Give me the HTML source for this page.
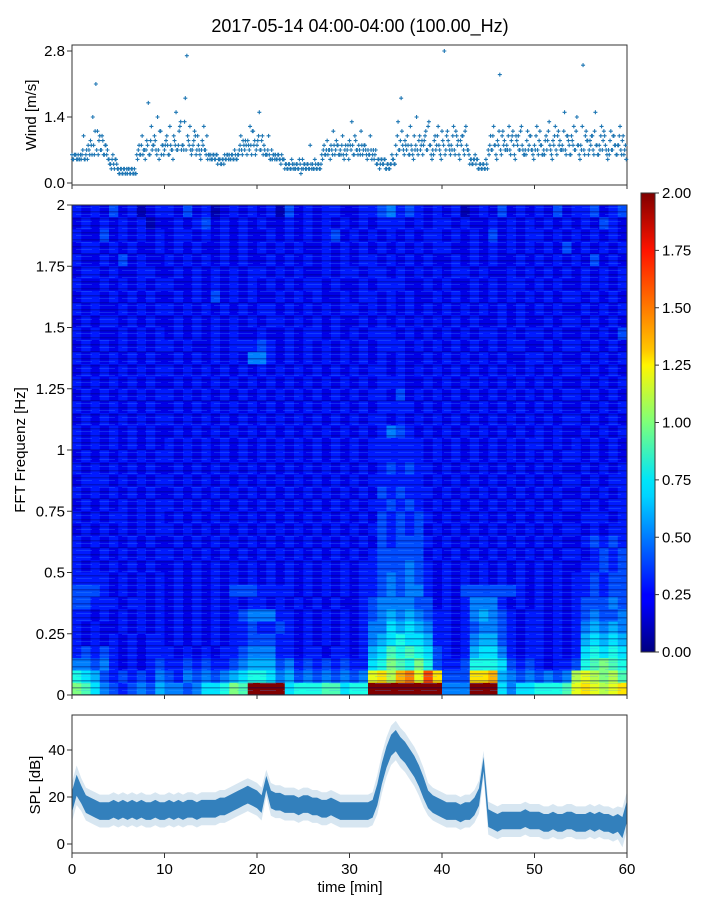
<!DOCTYPE html>
<html><head><meta charset="utf-8"><style>
body{margin:0;background:#fff;}
svg{display:block;font-family:"Liberation Sans","DejaVu Sans",sans-serif;}
</style></head><body>
<svg id="fig" width="720" height="900" viewBox="0 0 720 900">
<text x="360" y="32" text-anchor="middle" font-size="18" fill="#000">2017-05-14 04:00-04:00 (100.00_Hz)</text>
<defs>
<linearGradient id="jet" x1="0" y1="1" x2="0" y2="0">
<stop offset="0" stop-color="#000080"/><stop offset="0.11" stop-color="#0000ff"/><stop offset="0.125" stop-color="#0000ff"/><stop offset="0.34" stop-color="#00d4ff"/><stop offset="0.375" stop-color="#00e5f8"/><stop offset="0.5" stop-color="#7dff7a"/><stop offset="0.625" stop-color="#fff500"/><stop offset="0.66" stop-color="#ffc400"/><stop offset="0.875" stop-color="#ff1300"/><stop offset="1" stop-color="#800000"/>
</linearGradient>
<pattern id="streaks" width="23" height="7" patternUnits="userSpaceOnUse">
<rect x="0" y="1" width="23" height="1.5" fill="#000060" fill-opacity="0.35"/>
<rect x="7" y="4" width="16" height="1" fill="#40a0ff" fill-opacity="0.25"/>
</pattern>
<clipPath id="clipSpl"><rect x="72" y="715" width="555" height="138"/></clipPath>
</defs>
<g id="wind"></g>
<g id="spec"></g>
<g id="cbar"></g>
<g id="spl"></g>
</svg>
<script>
// ---------- data ----------
// wind: 6 samples per minute, chars = tenths of m/s ('0'-'9' 0.0-0.9, 'a'.. = 1.0..)
const windMinutes = ["566556","6a5786","8e6lb9","7a6865","436353","232323","323232","586a75","9h6c8a","7e5b86",
"8a6c75","9f7bd8","7ir9c6","8b6a75","9c7a65","565645","454565","565756","7a6896","8c6b97",
"9f7a86","6a5765","565455","434353","343525","434383","353434","586975","7b6986","6a5875",
"8d6a76","7b6875","6a5764","535453","434654","6d7i86","8a6c75","7e6a86","9b7d85","6a8c75",
"9s7b86","7c6a95","8a6c76","545653","434353","6a7c85","8n6b97","7c6a85","9a7c76","6b8a75",
"7c6b86","6a9d75","8c6b97","7f6a86","9c7e85","7p6b97","8a6f86","7c9a75","6b7a86","8c6a75"];
// second dense sample set (base cluster)
const windMinutesB = ["656565","575657","968b76","a79687","545454","323232","232322","676867","786978","967b68",
"798687","a878c7","8d7a87","79a786","787656","656565","545656","656565","687978","978b86",
"8a7967","676556","656565","343434","434343","343434","434343","676767","868786","786768",
"978697","868786","767657","454545","343454","8a79b7","978686","a87979","8a7c86","797a86",
"b86a97","8a7b86","9a7b87","454545","343434","787a86","9b7a87","8a79b6","a87b86","797a76",
"8a7986","797b86","9a7a87","8b7a96","a87b86","8c7a96","9a7b86","8a7b86","797a86","8a7968"];
const windTicks = [0.0, 1.4, 2.8];

// spectrogram: 40 rows (top = 1.95-2.0 Hz ... bottom = 0-0.05 Hz), 60 one-minute columns
// chars: '0'-'9' = 0.0-0.9, 'a'-'k' = 1.0-2.0
const specRows = [
"3232423123 3242312323 2314232332 2334534323 2312324232 3242334234",
"2323232312 2323423232 3223232323 2323332323 3232232323 2323232432",
"3224232323 2332323232 2323232342 3232323233 2323242323 3232323232",
"2332323223 2323223232 3232322323 2323232323 3223232323 2324232323",
"3223242322 3232323232 2323232323 2332323232 2323232232 3232324232",
"2332322332 2323232323 3232322323 3233232323 2332322323 2323232323",
"3223232323 3223232323 2323233232 2323332232 3223232332 3232232323",
"2332323232 2323242323 2232323223 2332323223 2323232323 2323323232",
"3232232323 3232323232 3323232323 3232323232 3232323232 3232232323",
"2323323232 2323232323 2332323232 2323232323 2323223232 2323323232",
"3232232323 2323232322 3223233232 3233323232 3232332323 3232232324",
"2323232323 3232232333 4323232323 2323332323 2323232332 2323323232",
"3232323232 2323232325 5323232323 2323232232 3232323223 3232232323",
"2323232323 3232323232 3232323232 3233232323 2323232323 2323323232",
"3232323232 2323232323 2323232323 2323332232 3232323232 3232232323",
"2323232323 3232323232 3232323232 3233242323 2323232323 2323323232",
"3232323232 2323232323 2323232323 2323333232 3232323232 3232232323",
"2323232323 3232323232 3232323232 3233232323 2323232323 2323323232",
"3232323232 2323232323 2323232323 2323543232 3232323232 3232232323",
"3232323232 3232323232 3232323232 3233333323 2323232323 3232323232",
"2323232323 3232323232 3232323232 3233333323 2323232323 2323323232",
"3232323232 2323232323 2323232323 2323434332 3232323232 3232232323",
"2333232323 3232323232 3232323232 3233333323 2323232323 2323323233",
"3232323232 2323232323 2323232323 2324343332 3232323232 3232232323",
"2323232323 3232323232 3232323232 3233434323 2323232323 2323323233",
"3232332323 2323232323 2323232323 2324343432 3232323232 3232233323",
"2323232323 3232323232 3232323232 3234343423 2323232323 2323323233",
"3232323232 2323232323 2323232323 2324344432 3232323232 3232234343",
"3323232323 3232323232 3232323232 3234444423 2323232323 2323323434",
"3232323232 2323232323 2323232323 2334445432 3232323232 3232233434",
"3333232323 2323232323 2323232323 2334545432 3232323232 3232334344",
"4443232323 2323232444 3333232323 2334545532 3244444432 3232334344",
"4433323323 2323232323 3232323232 2345555442 3235553232 3232344454",
"3323232323 2323232345 5533232323 2345656543 3235654323 3232345445",
"3232232323 2323232334 3343232323 2355767653 3234554323 3232356565",
"3232323233 2323232334 4433232323 2356787763 3235664323 3232367676",
"3434323233 3232323345 5533233233 2367989874 3236775323 3232378787",
"5545323234 3343433456 6645343434 3378a98a84 3348887434 3233489a98",
"8764343435 4354545678 8756454545 45cdbefcgd 444dde6545 4545bcbab9",
"a975434546 5545778a9k kkk7888997 88kkkkkkkk 555kkk7577 8889cdcbcd"];
const specYTicks = ["0","0.25","0.5","0.75","1","1.25","1.5","1.75","2"];
const cbarTicks = ["0.00","0.25","0.50","0.75","1.00","1.25","1.50","1.75","2.00"];

// SPL: one value per 0.5 min (0..60), dB
const splMean = [18,25,21,17,16,15,14,14,14,15, 14,15,14,15,14,15,14,14,15,14,
14,15,14,15,14,15,15,14,15,15, 15,15,16,16,17,18,19,20,21,20,
19,17,26,19,18,18,17,17,17,16, 17,17,16,16,15,15,16,15,14,14,
14,14,14,14,14,15,21,30,37,42, 44,41,39,36,33,29,24,19,17,16,
15,14,14,14,13,14,14,16,20,34, 11,10,9,10,10,10,10,10,11,10,
10,10,9,9,10,9,9,10,10,9, 9,9,10,9,10,9,9,8,9,7, 14];
const splSpread = [6,6,5,5,5,5,5,5,5,5, 5,5,5,5,5,5,5,5,5,5,
5,5,5,5,5,5,5,5,5,5, 5,5,5,5,5,5,5,5,5,5,
5,5,4,5,5,5,5,5,5,5, 5,5,5,5,5,5,5,5,5,5,
5,5,5,5,5,5,6,6,6,6, 6,6,6,6,6,6,6,5,5,5,
5,5,5,5,5,5,5,5,5,4, 5,5,5,5,5,5,5,5,5,5,
5,5,5,5,5,5,5,5,5,5, 5,5,5,5,5,5,5,5,5,6, 6];
const splTicks = [0,20,40];
const timeTicks = [0,10,20,30,40,50,60];

// ---------- helpers ----------
const NS="http://www.w3.org/2000/svg";
function mk(tag,attrs,parent){const e=document.createElementNS(NS,tag);for(const k in attrs)e.setAttribute(k,attrs[k]);parent.appendChild(e);return e;}
function decode(c){if(c>='0'&&c<='9')return (c.charCodeAt(0)-48)/10;return (c.charCodeAt(0)-97+10)/10;}
function jet(v){let x=Math.max(0,Math.min(1,v/2));
 const cl=t=>Math.max(0,Math.min(1,t));
 const r=cl(1.5-Math.abs(4*x-3)),g=cl(1.5-Math.abs(4*x-2)),b=cl(1.5-Math.abs(4*x-1));
 return `rgb(${Math.round(r*255)},${Math.round(g*255)},${Math.round(b*255)})`;}
const X0=72,X1=627;
const xT=t=>X0+(X1-X0)*t/60;

// ---------- wind panel ----------
const wg=document.getElementById('wind');
const wy=v=>183-(183-51)*v/2.8;
const wframe=mk('rect',{x:72,y:45,width:555,height:140,fill:'none',stroke:'#333','stroke-width':1},wg);


function plotWind(arr,off){arr.forEach((s,m)=>{for(let i=0;i<s.length;i++){const v=decode(s[i]);const t=m+i/6+off;
 const p=mk('path',{d:`M${xT(t)-2},${wy(v)}h4M${xT(t)},${wy(v)-2}v4`,stroke:'#1f77b4','stroke-width':1.1},wg);
 
 }});}
plotWind(windMinutes,1/12);
plotWind(windMinutesB,0);
windTicks.forEach(v=>{mk('line',{x1:67,x2:72,y1:wy(v),y2:wy(v),stroke:'#333'},wg);
 const t=mk('text',{x:65,y:wy(v)+5,'text-anchor':'end','font-size':15},wg);t.textContent=v.toFixed(1);
 
 });
timeTicks.forEach(v=>mk('line',{x1:xT(v),x2:xT(v),y1:185,y2:189,stroke:'#333'},wg));
const wl=mk('text',{x:0,y:0,transform:'translate(36,115) rotate(-90)','text-anchor':'middle','font-size':15},wg);
wl.textContent='Wind [m/s]';



// ---------- spectrogram ----------
const sg=document.getElementById('spec');
const SY0=205,SY1=695;
const fy=f=>SY1-(SY1-SY0)*f/2;
const nR=specRows.length;
specRows.forEach((row,ri)=>{const s=row.replace(/ /g,'');const f1=2-ri*2/nR,f0=f1-2/nR;
 for(let c=0;c<s.length;c++){const r=mk('rect',{x:xT(c),y:fy(f1),width:xT(c+1)-xT(c)+0.4,height:fy(f0)-fy(f1)+0.4,fill:jet(decode(s[c]))},sg);
 
 }});
const tex=mk('rect',{x:72,y:SY0,width:555,height:SY1-SY0,fill:'url(#streaks)'},sg);


mk('rect',{x:72,y:SY0,width:555,height:SY1-SY0,fill:'none',stroke:'#333'},sg);
specYTicks.forEach(l=>{const f=parseFloat(l);mk('line',{x1:67,x2:72,y1:fy(f),y2:fy(f),stroke:'#333'},sg);
 const t=mk('text',{x:65,y:fy(f)+5,'text-anchor':'end','font-size':15},sg);t.textContent=l;
 
 });
timeTicks.forEach(v=>mk('line',{x1:xT(v),x2:xT(v),y1:695,y2:699,stroke:'#333'},sg));
const sl=mk('text',{x:0,y:0,transform:'translate(25,450) rotate(-90)','text-anchor':'middle','font-size':15},sg);
sl.textContent='FFT Frequenz [Hz]';



// ---------- colorbar ----------
const cg=document.getElementById('cbar');
const CY0=193,CY1=652;
mk('rect',{x:641,y:CY0,width:14,height:CY1-CY0,fill:'url(#jet)',stroke:'#333'},cg);
cbarTicks.forEach(l=>{const v=parseFloat(l);const y=CY1-(CY1-CY0)*v/2;
 mk('line',{x1:655,x2:659,y1:y,y2:y,stroke:'#333'},cg);
 const t=mk('text',{x:662,y:y+5,'font-size':15},cg);t.textContent=l;
 
 });

// ---------- SPL ----------
const pg=document.getElementById('spl');
const py=v=>844-(844-750)*v/40;
const band=(k)=>{let up='',lo='';splMean.forEach((m,i)=>{const x=xT(i*0.5);up+=(i?'L':'M')+x.toFixed(1)+','+py(m+splSpread[i]*k).toFixed(1);});
 for(let i=splMean.length-1;i>=0;i--){lo+='L'+xT(i*0.5).toFixed(1)+','+py(splMean[i]-splSpread[i]*k).toFixed(1);}return up+lo+'Z';};
const g2=mk('g',{'clip-path':'url(#clipSpl)'},pg);
const b1=mk('path',{d:band(1.4),fill:'#1f77b4','fill-opacity':0.18},g2);


const b2=mk('path',{d:band(0.75),fill:'#2a7ab8','fill-opacity':0.95},g2);


mk('rect',{x:72,y:715,width:555,height:138,fill:'none',stroke:'#333'},pg);
splTicks.forEach(v=>{mk('line',{x1:67,x2:72,y1:py(v),y2:py(v),stroke:'#333'},pg);
 const t=mk('text',{x:65,y:py(v)+5,'text-anchor':'end','font-size':15},pg);t.textContent=v;
 
 });
timeTicks.forEach(v=>{mk('line',{x1:xT(v),x2:xT(v),y1:853,y2:858,stroke:'#333'},pg);
 const t=mk('text',{x:xT(v),y:874,'text-anchor':'middle','font-size':15},pg);t.textContent=v;
 
 });
const pl=mk('text',{x:0,y:0,transform:'translate(40,785) rotate(-90)','text-anchor':'middle','font-size':15},pg);
pl.textContent='SPL [dB]';


const xl=mk('text',{x:350,y:892,'text-anchor':'middle','font-size':15},pg);
xl.textContent='time [min]';


</script>
</body></html>
